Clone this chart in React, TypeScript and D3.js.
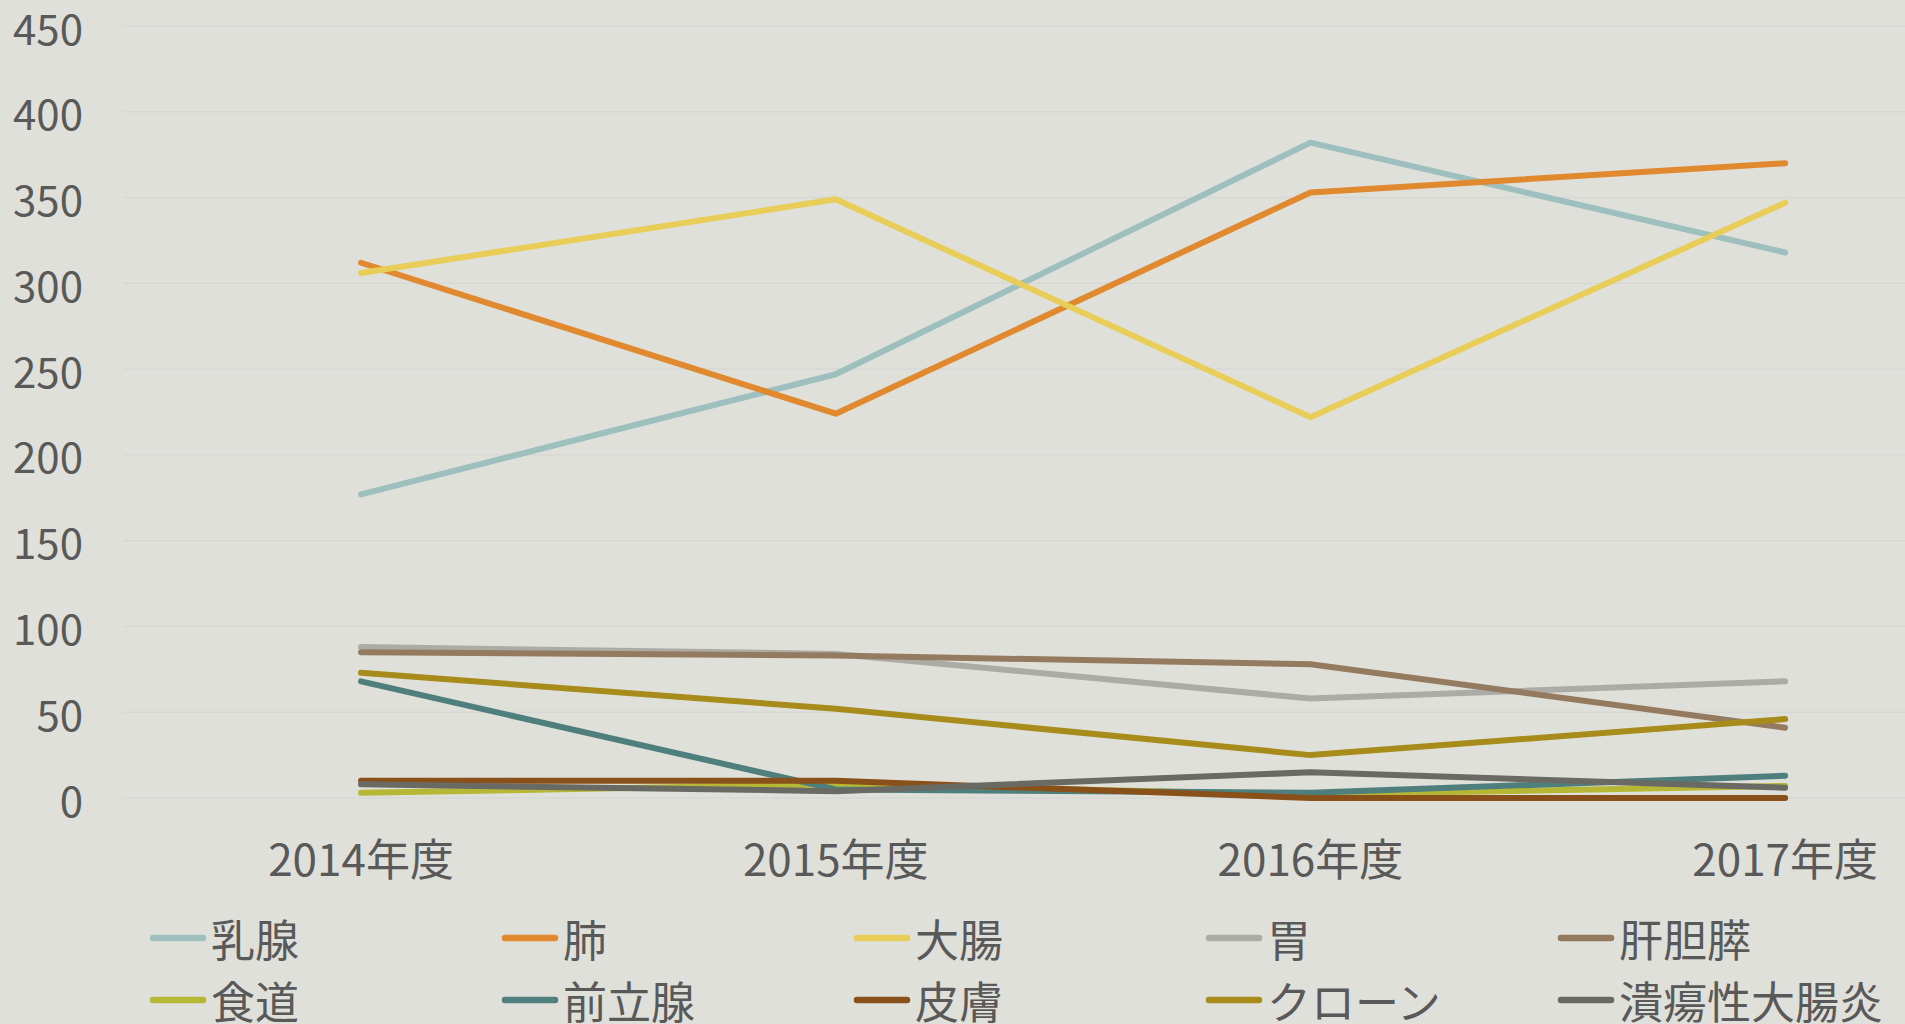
import React from "react";
import * as d3 from "d3";

const categories = ["2014年度", "2015年度", "2016年度", "2017年度"];
const seriesNames = ["乳腺", "肺", "大腸", "胃", "肝胆膵", "食道", "前立腺", "皮膚", "クローン", "潰瘍性大腸炎"];
const seriesColors = ["#9dc0bf", "#e0892f", "#e8cd58", "#acaca6", "#947b5f", "#b5b735", "#4f7f7c", "#8a5019", "#a88c1b", "#6a6a64"];
const nyusen = [177, 247, 382, 318];
const hai = [312, 224, 353, 370];
const daicho = [306, 349, 222, 347];
const i_ = [88, 84, 58, 68];
const kantansui = [85, 83, 78, 41];
const shokudo = [3, 8, 2, 7];
const zenritsusen = [68, 5, 3, 13];
const hifu = [10, 10, 0, 0];
const crohn = [73, 52, 25, 46];
const kaiyosei = [8, 4, 15, 6];
const seriesValues = [nyusen, hai, daicho, i_, kantansui, shokudo, zenritsusen, hifu, crohn, kaiyosei];
const yTicks = [0, 50, 100, 150, 200, 250, 300, 350, 400, 450];

const W = 1905;
const H = 1024;
const FONT = "'Noto Sans CJK JP', 'Noto Sans', sans-serif";
const TXT = "#595959";

export default function App() {
  const plotLeft = 123.7;
  const band = 474.7;
  const x = d3.scaleBand<string>().domain(categories).range([plotLeft, plotLeft + band * categories.length]);
  const y = d3.scaleLinear().domain([0, 450]).range([798, 26]);
  const line = d3
    .line<number>()
    .x((_, i) => (x(categories[i]) as number) + x.bandwidth() / 2)
    .y((d) => y(d));

  const legendCols = [150, 502, 854, 1206, 1558];
  const legendRows = [938, 1000];

  return (
    <svg width={W} height={H} style={{ position: "absolute", left: 0, top: 0, display: "block" }}>
      <rect x={0} y={0} width={W} height={H} fill="#e0e0da" />
      {yTicks.map((t) => (
        <g key={t}>
          <line x1={plotLeft} x2={W} y1={y(t)} y2={y(t)} stroke="#d7d7d4" strokeWidth={1.5} />
          <text x={83} y={y(t)} textAnchor="end" dominantBaseline="central" fontFamily={FONT} fontSize={42} fill={TXT}>
            {t}
          </text>
        </g>
      ))}
      {categories.map((c) => (
        <text
          key={c}
          x={(x(c) as number) + x.bandwidth() / 2}
          y={857}
          textAnchor="middle"
          dominantBaseline="central"
          fontFamily={FONT}
          fontSize={44}
          fill={TXT}
        >
          {c}
        </text>
      ))}
      {seriesValues.map((vals, si) => (
        <path
          key={seriesNames[si]}
          d={line(vals) || ""}
          fill="none"
          stroke={seriesColors[si]}
          strokeWidth={6}
          strokeLinecap="round"
          strokeLinejoin="round"
        />
      ))}
      {seriesNames.map((n, si) => {
        const col = si % 5;
        const row = Math.floor(si / 5);
        const lx = legendCols[col];
        const ly = legendRows[row];
        return (
          <g key={n}>
            <line x1={lx + 3} x2={lx + 53} y1={ly} y2={ly} stroke={seriesColors[si]} strokeWidth={6.5} strokeLinecap="round" />
            <text x={lx + 61} y={ly} dominantBaseline="central" fontFamily={FONT} fontSize={44} fill={TXT}>
              {n}
            </text>
          </g>
        );
      })}
    </svg>
  );
}
